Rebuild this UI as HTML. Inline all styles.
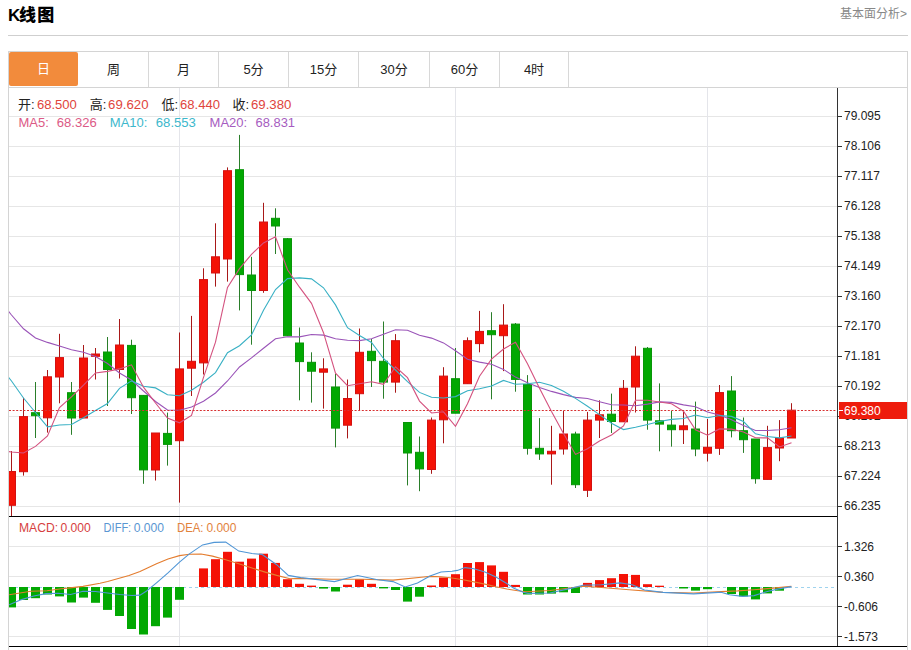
<!DOCTYPE html>
<html><head><meta charset="utf-8"><title>K线图</title>
<style>
html,body{margin:0;padding:0;background:#fff;}
body{width:911px;height:650px;overflow:hidden;position:relative;font-family:"Liberation Sans","Noto Sans CJK SC",sans-serif;}
.title{position:absolute;left:8px;top:4px;font-size:17px;font-weight:900;color:#000;line-height:24px;}
.more{position:absolute;right:4px;top:6px;font-size:12px;color:#888;line-height:16px;}
.hr{position:absolute;left:8px;top:35px;width:900px;height:1px;background:#cfcfcf;}
.box{position:absolute;left:8px;top:51px;width:900px;height:620px;border:1px solid #d4d4d4;box-sizing:border-box;}
.tabbar{position:absolute;left:9px;top:87px;width:898px;height:1px;background:#d4d4d4;}
.tab{position:absolute;top:52px;width:70px;height:35px;line-height:35px;text-align:center;font-size:13px;color:#222;}
.tab.act{background:#f28b3c;color:#fff;width:69px;height:34px;line-height:34px;border-radius:2px;}
.sep{position:absolute;top:52px;width:1px;height:35px;background:#d8d8d8;}
svg{position:absolute;left:0;top:0;}
</style></head><body>
<div class="title"><span style="letter-spacing:-1.2px">K</span><span style="letter-spacing:1.2px">线图</span></div>
<div class="more">基本面分析&gt;</div>
<div class="hr"></div>
<div class="box"></div>
<div class="tabbar"></div>
<div class="tab act" style="left:9px;width:69px">日</div>
<div class="tab" style="left:78px;width:71px">周</div>
<div class="tab" style="left:148px;width:71px">月</div>
<div class="tab" style="left:218px;width:71px">5分</div>
<div class="tab" style="left:288px;width:71px">15分</div>
<div class="tab" style="left:358px;width:72px">30分</div>
<div class="tab" style="left:429px;width:71px">60分</div>
<div class="tab" style="left:499px;width:70px">4时</div>
<div class="sep" style="left:148px"></div><div class="sep" style="left:218px"></div><div class="sep" style="left:288px"></div><div class="sep" style="left:358px"></div><div class="sep" style="left:429px"></div><div class="sep" style="left:499px"></div><div class="sep" style="left:568px"></div>
<svg width="911" height="650" viewBox="0 0 911 650">
<defs><clipPath id="cm"><rect x="9" y="88" width="828" height="428"/></clipPath><clipPath id="cd"><rect x="9" y="517" width="828" height="129"/></clipPath></defs>
<line x1="9" x2="837" y1="116.5" y2="116.5" stroke="#e6e6e6" stroke-width="1"/>
<line x1="9" x2="837" y1="146.5" y2="146.5" stroke="#e6e6e6" stroke-width="1"/>
<line x1="9" x2="837" y1="176.5" y2="176.5" stroke="#e6e6e6" stroke-width="1"/>
<line x1="9" x2="837" y1="206.5" y2="206.5" stroke="#e6e6e6" stroke-width="1"/>
<line x1="9" x2="837" y1="236.5" y2="236.5" stroke="#e6e6e6" stroke-width="1"/>
<line x1="9" x2="837" y1="266.5" y2="266.5" stroke="#e6e6e6" stroke-width="1"/>
<line x1="9" x2="837" y1="296.5" y2="296.5" stroke="#e6e6e6" stroke-width="1"/>
<line x1="9" x2="837" y1="326.5" y2="326.5" stroke="#e6e6e6" stroke-width="1"/>
<line x1="9" x2="837" y1="356.5" y2="356.5" stroke="#e6e6e6" stroke-width="1"/>
<line x1="9" x2="837" y1="386.5" y2="386.5" stroke="#e6e6e6" stroke-width="1"/>
<line x1="9" x2="837" y1="416.5" y2="416.5" stroke="#e6e6e6" stroke-width="1"/>
<line x1="9" x2="837" y1="446.5" y2="446.5" stroke="#e6e6e6" stroke-width="1"/>
<line x1="9" x2="837" y1="476.5" y2="476.5" stroke="#e6e6e6" stroke-width="1"/>
<line x1="9" x2="837" y1="506.5" y2="506.5" stroke="#e6e6e6" stroke-width="1"/>
<line x1="179.5" x2="179.5" y1="88" y2="646" stroke="#e4e5ea" stroke-width="1"/>
<line x1="455.5" x2="455.5" y1="88" y2="646" stroke="#e4e5ea" stroke-width="1"/>
<line x1="707.5" x2="707.5" y1="88" y2="646" stroke="#e4e5ea" stroke-width="1"/>
<line x1="9" x2="837" y1="546.5" y2="546.5" stroke="#e6e6e6" stroke-width="1"/>
<line x1="9" x2="837" y1="576.5" y2="576.5" stroke="#e6e6e6" stroke-width="1"/>
<line x1="9" x2="837" y1="606.5" y2="606.5" stroke="#e6e6e6" stroke-width="1"/>
<line x1="9" x2="837" y1="636.5" y2="636.5" stroke="#e6e6e6" stroke-width="1"/>
<g clip-path="url(#cm)">
<rect x="11.0" y="451.0" width="1" height="65.0" fill="#a81818"/>
<rect x="7.5" y="471.5" width="8" height="33.8" fill="#f41206" stroke="#d41010" stroke-width="1"/>
<rect x="23.0" y="397.7" width="1" height="77.9" fill="#a81818"/>
<rect x="19.5" y="416.6" width="8" height="55.1" fill="#f41206" stroke="#d41010" stroke-width="1"/>
<rect x="35.0" y="382.0" width="1" height="56.0" fill="#2a7e2a"/>
<rect x="31.5" y="412.7" width="8" height="3.0" fill="#02a802" stroke="#089608" stroke-width="1"/>
<rect x="47.0" y="370.0" width="1" height="62.6" fill="#a81818"/>
<rect x="43.5" y="376.8" width="8" height="41.0" fill="#f41206" stroke="#d41010" stroke-width="1"/>
<rect x="59.0" y="333.8" width="1" height="69.5" fill="#a81818"/>
<rect x="55.5" y="357.6" width="8" height="19.4" fill="#f41206" stroke="#d41010" stroke-width="1"/>
<rect x="71.0" y="382.0" width="1" height="52.8" fill="#2a7e2a"/>
<rect x="67.5" y="392.7" width="8" height="25.3" fill="#02a802" stroke="#089608" stroke-width="1"/>
<rect x="83.0" y="345.0" width="1" height="73.0" fill="#a81818"/>
<rect x="79.5" y="358.0" width="8" height="60.0" fill="#f41206" stroke="#d41010" stroke-width="1"/>
<rect x="95.0" y="348.0" width="1" height="31.5" fill="#a81818"/>
<rect x="91.5" y="354.0" width="8" height="2.3" fill="#f41206" stroke="#d41010" stroke-width="1"/>
<rect x="107.0" y="337.0" width="1" height="69.0" fill="#2a7e2a"/>
<rect x="103.5" y="352.0" width="8" height="17.5" fill="#02a802" stroke="#089608" stroke-width="1"/>
<rect x="119.0" y="319.0" width="1" height="59.5" fill="#a81818"/>
<rect x="115.5" y="345.0" width="8" height="24.5" fill="#f41206" stroke="#d41010" stroke-width="1"/>
<rect x="131.0" y="339.7" width="1" height="74.3" fill="#2a7e2a"/>
<rect x="127.5" y="345.4" width="8" height="52.3" fill="#02a802" stroke="#089608" stroke-width="1"/>
<rect x="143.0" y="395.0" width="1" height="88.8" fill="#2a7e2a"/>
<rect x="139.5" y="395.4" width="8" height="74.5" fill="#02a802" stroke="#089608" stroke-width="1"/>
<rect x="155.0" y="433.0" width="1" height="47.5" fill="#a81818"/>
<rect x="151.5" y="433.0" width="8" height="37.0" fill="#f41206" stroke="#d41010" stroke-width="1"/>
<rect x="167.0" y="412.6" width="1" height="53.0" fill="#2a7e2a"/>
<rect x="163.5" y="433.4" width="8" height="11.0" fill="#02a802" stroke="#089608" stroke-width="1"/>
<rect x="179.0" y="332.5" width="1" height="170.1" fill="#a81818"/>
<rect x="175.5" y="368.9" width="8" height="71.8" fill="#f41206" stroke="#d41010" stroke-width="1"/>
<rect x="191.0" y="315.9" width="1" height="80.1" fill="#a81818"/>
<rect x="187.5" y="361.3" width="8" height="6.9" fill="#f41206" stroke="#d41010" stroke-width="1"/>
<rect x="203.0" y="268.3" width="1" height="106.2" fill="#a81818"/>
<rect x="199.5" y="279.6" width="8" height="83.3" fill="#f41206" stroke="#d41010" stroke-width="1"/>
<rect x="215.0" y="223.3" width="1" height="63.3" fill="#a81818"/>
<rect x="211.5" y="256.8" width="8" height="16.2" fill="#f41206" stroke="#d41010" stroke-width="1"/>
<rect x="227.0" y="167.4" width="1" height="114.2" fill="#a81818"/>
<rect x="223.5" y="170.7" width="8" height="88.3" fill="#f41206" stroke="#d41010" stroke-width="1"/>
<rect x="239.0" y="134.9" width="1" height="175.5" fill="#2a7e2a"/>
<rect x="235.5" y="169.7" width="8" height="104.9" fill="#02a802" stroke="#089608" stroke-width="1"/>
<rect x="251.0" y="256.8" width="1" height="87.9" fill="#2a7e2a"/>
<rect x="247.5" y="275.0" width="8" height="15.5" fill="#02a802" stroke="#089608" stroke-width="1"/>
<rect x="263.0" y="202.8" width="1" height="90.0" fill="#a81818"/>
<rect x="259.5" y="222.0" width="8" height="68.5" fill="#f41206" stroke="#d41010" stroke-width="1"/>
<rect x="275.0" y="208.3" width="1" height="45.7" fill="#2a7e2a"/>
<rect x="271.5" y="218.3" width="8" height="7.7" fill="#02a802" stroke="#089608" stroke-width="1"/>
<rect x="287.0" y="238.0" width="1" height="97.8" fill="#2a7e2a"/>
<rect x="283.5" y="238.7" width="8" height="97.1" fill="#02a802" stroke="#089608" stroke-width="1"/>
<rect x="299.0" y="327.5" width="1" height="72.8" fill="#2a7e2a"/>
<rect x="295.5" y="343.0" width="8" height="18.6" fill="#02a802" stroke="#089608" stroke-width="1"/>
<rect x="311.0" y="352.3" width="1" height="50.3" fill="#2a7e2a"/>
<rect x="307.5" y="362.3" width="8" height="8.9" fill="#02a802" stroke="#089608" stroke-width="1"/>
<rect x="323.0" y="358.3" width="1" height="50.3" fill="#a81818"/>
<rect x="319.5" y="368.9" width="8" height="3.3" fill="#f41206" stroke="#d41010" stroke-width="1"/>
<rect x="335.0" y="373.8" width="1" height="73.6" fill="#2a7e2a"/>
<rect x="331.5" y="387.0" width="8" height="41.1" fill="#02a802" stroke="#089608" stroke-width="1"/>
<rect x="347.0" y="379.5" width="1" height="58.9" fill="#a81818"/>
<rect x="343.5" y="398.5" width="8" height="26.7" fill="#f41206" stroke="#d41010" stroke-width="1"/>
<rect x="359.0" y="328.5" width="1" height="81.8" fill="#a81818"/>
<rect x="355.5" y="352.3" width="8" height="41.4" fill="#f41206" stroke="#d41010" stroke-width="1"/>
<rect x="371.0" y="339.0" width="1" height="48.0" fill="#2a7e2a"/>
<rect x="367.5" y="351.3" width="8" height="9.3" fill="#02a802" stroke="#089608" stroke-width="1"/>
<rect x="383.0" y="321.5" width="1" height="77.2" fill="#2a7e2a"/>
<rect x="379.5" y="361.3" width="8" height="20.8" fill="#02a802" stroke="#089608" stroke-width="1"/>
<rect x="395.0" y="334.1" width="1" height="58.6" fill="#a81818"/>
<rect x="391.5" y="340.7" width="8" height="41.4" fill="#f41206" stroke="#d41010" stroke-width="1"/>
<rect x="407.0" y="422.5" width="1" height="62.9" fill="#2a7e2a"/>
<rect x="403.5" y="422.5" width="8" height="30.5" fill="#02a802" stroke="#089608" stroke-width="1"/>
<rect x="419.0" y="436.5" width="1" height="54.7" fill="#2a7e2a"/>
<rect x="415.5" y="452.3" width="8" height="16.6" fill="#02a802" stroke="#089608" stroke-width="1"/>
<rect x="431.0" y="417.5" width="1" height="56.3" fill="#a81818"/>
<rect x="427.5" y="420.1" width="8" height="49.4" fill="#f41206" stroke="#d41010" stroke-width="1"/>
<rect x="443.0" y="367.2" width="1" height="76.1" fill="#a81818"/>
<rect x="439.5" y="376.1" width="8" height="43.7" fill="#f41206" stroke="#d41010" stroke-width="1"/>
<rect x="455.0" y="348.0" width="1" height="65.2" fill="#2a7e2a"/>
<rect x="451.5" y="378.7" width="8" height="34.5" fill="#02a802" stroke="#089608" stroke-width="1"/>
<rect x="467.0" y="337.4" width="1" height="46.3" fill="#a81818"/>
<rect x="463.5" y="340.7" width="8" height="43.0" fill="#f41206" stroke="#d41010" stroke-width="1"/>
<rect x="479.0" y="310.9" width="1" height="41.4" fill="#a81818"/>
<rect x="475.5" y="331.4" width="8" height="12.2" fill="#f41206" stroke="#d41010" stroke-width="1"/>
<rect x="491.0" y="312.2" width="1" height="87.1" fill="#2a7e2a"/>
<rect x="487.5" y="330.7" width="8" height="4.0" fill="#02a802" stroke="#089608" stroke-width="1"/>
<rect x="503.0" y="304.2" width="1" height="66.9" fill="#a81818"/>
<rect x="499.5" y="325.1" width="8" height="10.6" fill="#f41206" stroke="#d41010" stroke-width="1"/>
<rect x="515.0" y="323.0" width="1" height="68.7" fill="#2a7e2a"/>
<rect x="511.5" y="324.1" width="8" height="55.3" fill="#02a802" stroke="#089608" stroke-width="1"/>
<rect x="527.0" y="375.1" width="1" height="79.5" fill="#2a7e2a"/>
<rect x="523.5" y="384.4" width="8" height="63.9" fill="#02a802" stroke="#089608" stroke-width="1"/>
<rect x="539.0" y="418.1" width="1" height="41.8" fill="#2a7e2a"/>
<rect x="535.5" y="448.3" width="8" height="5.6" fill="#02a802" stroke="#089608" stroke-width="1"/>
<rect x="551.0" y="425.8" width="1" height="58.9" fill="#a81818"/>
<rect x="547.5" y="451.3" width="8" height="2.6" fill="#f41206" stroke="#d41010" stroke-width="1"/>
<rect x="563.0" y="410.9" width="1" height="43.7" fill="#a81818"/>
<rect x="559.5" y="434.0" width="8" height="15.0" fill="#f41206" stroke="#d41010" stroke-width="1"/>
<rect x="575.0" y="431.7" width="1" height="56.3" fill="#2a7e2a"/>
<rect x="571.5" y="434.0" width="8" height="50.7" fill="#02a802" stroke="#089608" stroke-width="1"/>
<rect x="587.0" y="411.9" width="1" height="85.1" fill="#a81818"/>
<rect x="583.5" y="420.1" width="8" height="70.2" fill="#f41206" stroke="#d41010" stroke-width="1"/>
<rect x="599.0" y="400.3" width="1" height="37.7" fill="#a81818"/>
<rect x="595.5" y="414.8" width="8" height="5.3" fill="#f41206" stroke="#d41010" stroke-width="1"/>
<rect x="611.0" y="393.6" width="1" height="39.4" fill="#2a7e2a"/>
<rect x="607.5" y="414.2" width="8" height="7.3" fill="#02a802" stroke="#089608" stroke-width="1"/>
<rect x="623.0" y="380.0" width="1" height="41.8" fill="#a81818"/>
<rect x="619.5" y="388.3" width="8" height="33.5" fill="#f41206" stroke="#d41010" stroke-width="1"/>
<rect x="635.0" y="346.3" width="1" height="66.2" fill="#a81818"/>
<rect x="631.5" y="356.2" width="8" height="30.8" fill="#f41206" stroke="#d41010" stroke-width="1"/>
<rect x="647.0" y="347.0" width="1" height="82.7" fill="#2a7e2a"/>
<rect x="643.5" y="348.3" width="8" height="71.8" fill="#02a802" stroke="#089608" stroke-width="1"/>
<rect x="659.0" y="383.4" width="1" height="67.9" fill="#2a7e2a"/>
<rect x="655.5" y="420.8" width="8" height="3.3" fill="#02a802" stroke="#089608" stroke-width="1"/>
<rect x="671.0" y="410.9" width="1" height="35.7" fill="#2a7e2a"/>
<rect x="667.5" y="425.1" width="8" height="4.6" fill="#02a802" stroke="#089608" stroke-width="1"/>
<rect x="683.0" y="411.9" width="1" height="32.1" fill="#a81818"/>
<rect x="679.5" y="425.8" width="8" height="3.9" fill="#f41206" stroke="#d41010" stroke-width="1"/>
<rect x="695.0" y="401.6" width="1" height="54.6" fill="#2a7e2a"/>
<rect x="691.5" y="429.0" width="8" height="20.0" fill="#02a802" stroke="#089608" stroke-width="1"/>
<rect x="707.0" y="419.0" width="1" height="42.5" fill="#a81818"/>
<rect x="703.5" y="447.3" width="8" height="5.9" fill="#f41206" stroke="#d41010" stroke-width="1"/>
<rect x="719.0" y="385.0" width="1" height="69.9" fill="#a81818"/>
<rect x="715.5" y="392.6" width="8" height="55.7" fill="#f41206" stroke="#d41010" stroke-width="1"/>
<rect x="731.0" y="376.1" width="1" height="61.3" fill="#2a7e2a"/>
<rect x="727.5" y="391.0" width="8" height="39.7" fill="#02a802" stroke="#089608" stroke-width="1"/>
<rect x="743.0" y="417.5" width="1" height="35.4" fill="#2a7e2a"/>
<rect x="739.5" y="430.7" width="8" height="9.0" fill="#02a802" stroke="#089608" stroke-width="1"/>
<rect x="755.0" y="439.0" width="1" height="44.7" fill="#2a7e2a"/>
<rect x="751.5" y="439.0" width="8" height="39.7" fill="#02a802" stroke="#089608" stroke-width="1"/>
<rect x="767.0" y="425.8" width="1" height="53.6" fill="#a81818"/>
<rect x="763.5" y="447.6" width="8" height="31.8" fill="#f41206" stroke="#d41010" stroke-width="1"/>
<rect x="779.0" y="420.1" width="1" height="41.1" fill="#a81818"/>
<rect x="775.5" y="438.0" width="8" height="10.0" fill="#f41206" stroke="#d41010" stroke-width="1"/>
<rect x="791.0" y="403.2" width="1" height="34.8" fill="#a81818"/>
<rect x="787.5" y="410.2" width="8" height="27.8" fill="#f41206" stroke="#d41010" stroke-width="1"/>
<polyline points="-0.5,300.0 11.5,315.0 23.5,328.8 35.5,338.0 47.5,342.4 59.5,346.0 71.5,349.8 83.5,352.3 95.5,356.5 107.5,363.5 119.5,373.0 131.5,380.0 143.5,391.0 155.5,401.5 167.5,410.0 179.5,410.2 191.5,407.0 203.5,401.2 215.5,393.0 227.5,381.0 239.5,367.0 251.5,357.9 263.5,348.2 275.5,338.7 287.5,336.7 299.5,336.9 311.5,334.5 323.5,335.1 335.5,338.8 347.5,340.2 359.5,340.6 371.5,338.7 383.5,334.3 395.5,329.7 407.5,330.2 419.5,335.2 431.5,338.1 443.5,342.9 455.5,350.7 467.5,359.2 479.5,362.1 491.5,364.3 503.5,369.4 515.5,377.1 527.5,382.7 539.5,387.4 551.5,391.4 563.5,394.6 575.5,397.4 587.5,398.5 599.5,401.7 611.5,404.7 623.5,405.0 635.5,405.8 647.5,404.1 659.5,401.9 671.5,402.4 683.5,404.9 695.5,406.7 707.5,412.0 719.5,415.0 731.5,419.8 743.5,425.6 755.5,430.5 767.5,430.5 779.5,429.7 791.5,427.7" fill="none" stroke="#9a54b8" stroke-width="1.1"/>
<polyline points="-0.5,366.0 11.5,381.0 23.5,398.0 35.5,412.5 47.5,426.8 59.5,425.0 71.5,424.5 83.5,417.7 95.5,410.5 107.5,403.5 119.5,388.3 131.5,380.9 143.5,386.2 155.5,387.9 167.5,394.7 179.5,395.8 191.5,390.2 203.5,382.3 215.5,372.6 227.5,352.7 239.5,345.7 251.5,335.0 263.5,310.2 275.5,289.5 287.5,278.6 299.5,277.9 311.5,278.9 323.5,287.8 335.5,304.9 347.5,327.7 359.5,335.5 371.5,342.5 383.5,358.5 395.5,370.0 407.5,381.7 419.5,392.4 431.5,397.3 443.5,398.0 455.5,396.6 467.5,390.8 479.5,388.7 491.5,386.1 503.5,380.4 515.5,384.3 527.5,383.8 539.5,382.3 551.5,385.4 563.5,391.2 575.5,398.4 587.5,406.3 599.5,414.6 611.5,423.3 623.5,429.6 635.5,427.3 647.5,424.5 659.5,421.5 671.5,419.4 683.5,418.5 695.5,415.0 707.5,417.7 719.5,415.5 731.5,416.4 743.5,421.5 755.5,433.8 767.5,436.5 779.5,437.9 791.5,436.0" fill="none" stroke="#38b0c4" stroke-width="1.1"/>
<polyline points="-0.5,450.0 11.5,452.0 23.5,453.0 35.5,446.4 47.5,436.0 59.5,407.6 71.5,396.9 83.5,385.2 95.5,372.9 107.5,371.4 119.5,368.9 131.5,364.8 143.5,387.2 155.5,403.0 167.5,418.0 179.5,422.8 191.5,415.5 203.5,377.4 215.5,342.2 227.5,287.5 239.5,268.6 251.5,254.4 263.5,242.9 275.5,236.8 287.5,269.8 299.5,287.2 311.5,303.3 323.5,332.7 335.5,373.1 347.5,385.7 359.5,383.8 371.5,381.7 383.5,384.3 395.5,366.8 407.5,377.7 419.5,401.1 431.5,413.0 443.5,411.8 455.5,426.3 467.5,403.8 479.5,376.3 491.5,359.2 503.5,349.0 515.5,342.3 527.5,363.8 539.5,388.3 551.5,411.6 563.5,433.4 575.5,454.4 587.5,448.8 599.5,441.0 611.5,435.0 623.5,425.9 635.5,400.2 647.5,400.2 659.5,402.0 671.5,403.7 683.5,411.2 695.5,429.7 707.5,435.2 719.5,428.9 731.5,429.1 743.5,431.9 755.5,437.8 767.5,437.9 779.5,446.9 791.5,442.8" fill="none" stroke="#d4527f" stroke-width="1.1"/>
<line x1="9" x2="837" y1="410.5" y2="410.5" stroke="#d83030" stroke-width="1" stroke-dasharray="2 1.6"/>
</g>
<g clip-path="url(#cd)">
<line x1="9" x2="837" y1="587.5" y2="587.5" stroke="#9fd3ee" stroke-width="1" stroke-dasharray="3 3"/>
<rect x="7.0" y="587" width="9" height="20.4" fill="#02a802"/>
<rect x="19.0" y="587" width="9" height="13.0" fill="#02a802"/>
<rect x="31.0" y="587" width="9" height="11.2" fill="#02a802"/>
<rect x="43.0" y="587" width="9" height="7.5" fill="#02a802"/>
<rect x="55.0" y="587" width="9" height="9.4" fill="#02a802"/>
<rect x="67.0" y="587" width="9" height="15.5" fill="#02a802"/>
<rect x="79.0" y="587" width="9" height="10.6" fill="#02a802"/>
<rect x="91.0" y="587" width="9" height="15.8" fill="#02a802"/>
<rect x="103.0" y="587" width="9" height="22.9" fill="#02a802"/>
<rect x="115.0" y="587" width="9" height="29.0" fill="#02a802"/>
<rect x="127.0" y="587" width="9" height="42.0" fill="#02a802"/>
<rect x="139.0" y="587" width="9" height="47.5" fill="#02a802"/>
<rect x="151.0" y="587" width="9" height="39.2" fill="#02a802"/>
<rect x="163.0" y="587" width="9" height="30.6" fill="#02a802"/>
<rect x="175.0" y="587" width="9" height="12.8" fill="#02a802"/>
<rect x="199.0" y="568.4" width="9" height="18.6" fill="#f41206"/>
<rect x="211.0" y="559.2" width="9" height="27.8" fill="#f41206"/>
<rect x="223.0" y="551.8" width="9" height="35.2" fill="#f41206"/>
<rect x="235.0" y="561.7" width="9" height="25.3" fill="#f41206"/>
<rect x="247.0" y="558.6" width="9" height="28.4" fill="#f41206"/>
<rect x="259.0" y="553.7" width="9" height="33.3" fill="#f41206"/>
<rect x="271.0" y="562.9" width="9" height="24.1" fill="#f41206"/>
<rect x="283.0" y="579.2" width="9" height="7.8" fill="#f41206"/>
<rect x="295.0" y="583.8" width="9" height="3.2" fill="#f41206"/>
<rect x="307.0" y="585.6" width="9" height="1.4" fill="#f41206"/>
<rect x="319.0" y="587" width="9" height="1.6" fill="#02a802"/>
<rect x="331.0" y="587" width="9" height="4.5" fill="#02a802"/>
<rect x="343.0" y="584.7" width="9" height="2.3" fill="#f41206"/>
<rect x="355.0" y="579.2" width="9" height="7.8" fill="#f41206"/>
<rect x="367.0" y="583.8" width="9" height="3.2" fill="#f41206"/>
<rect x="379.0" y="587" width="9" height="1.4" fill="#02a802"/>
<rect x="391.0" y="587" width="9" height="3.0" fill="#02a802"/>
<rect x="403.0" y="587" width="9" height="14.6" fill="#02a802"/>
<rect x="415.0" y="587" width="9" height="9.7" fill="#02a802"/>
<rect x="427.0" y="585.5" width="9" height="1.5" fill="#f41206"/>
<rect x="439.0" y="577.5" width="9" height="9.5" fill="#f41206"/>
<rect x="451.0" y="574.2" width="9" height="12.8" fill="#f41206"/>
<rect x="463.0" y="563.0" width="9" height="24.0" fill="#f41206"/>
<rect x="475.0" y="562.1" width="9" height="24.9" fill="#f41206"/>
<rect x="487.0" y="565.4" width="9" height="21.6" fill="#f41206"/>
<rect x="499.0" y="571.8" width="9" height="15.2" fill="#f41206"/>
<rect x="511.0" y="584.9" width="9" height="2.1" fill="#f41206"/>
<rect x="523.0" y="587" width="9" height="7.5" fill="#02a802"/>
<rect x="535.0" y="587" width="9" height="7.5" fill="#02a802"/>
<rect x="547.0" y="587" width="9" height="6.6" fill="#02a802"/>
<rect x="559.0" y="587" width="9" height="5.3" fill="#02a802"/>
<rect x="571.0" y="587" width="9" height="6.0" fill="#02a802"/>
<rect x="583.0" y="582.9" width="9" height="4.1" fill="#f41206"/>
<rect x="595.0" y="580.1" width="9" height="6.9" fill="#f41206"/>
<rect x="607.0" y="578.2" width="9" height="8.8" fill="#f41206"/>
<rect x="619.0" y="574.0" width="9" height="13.0" fill="#f41206"/>
<rect x="631.0" y="574.9" width="9" height="12.1" fill="#f41206"/>
<rect x="643.0" y="584.2" width="9" height="2.8" fill="#f41206"/>
<rect x="655.0" y="585.7" width="9" height="1.3" fill="#f41206"/>
<rect x="679.0" y="587" width="9" height="1.5" fill="#02a802"/>
<rect x="691.0" y="587" width="9" height="3.6" fill="#02a802"/>
<rect x="703.0" y="587" width="9" height="2.2" fill="#02a802"/>
<rect x="727.0" y="587" width="9" height="7.0" fill="#02a802"/>
<rect x="739.0" y="587" width="9" height="9.4" fill="#02a802"/>
<rect x="751.0" y="587" width="9" height="12.4" fill="#02a802"/>
<rect x="763.0" y="587" width="9" height="6.4" fill="#02a802"/>
<rect x="775.0" y="587" width="9" height="3.7" fill="#02a802"/>
<polyline points="9.2,594.8 30.7,591.2 47.0,590.8 61.5,588.8 70.0,587.9 83.0,586.4 100.0,583.3 107.6,581.5 129.0,575.5 140.0,571.6 156.5,563.8 168.0,558.9 179.5,555.6 189.4,554.3 201.0,554.0 212.5,556.1 225.7,559.7 238.8,563.8 252.0,568.0 265.2,572.1 276.7,575.4 290.0,578.7 300.7,578.4 331.5,579.2 362.2,579.2 393.0,580.1 423.7,577.0 430.0,576.4 441.0,576.7 452.0,578.0 463.0,579.7 473.9,581.9 484.9,584.1 495.9,586.8 506.8,589.0 517.8,590.7 525.5,591.8 550.0,590.5 583.0,586.2 601.5,587.5 632.2,590.0 663.0,592.4 693.7,593.0 721.2,591.6 737.7,590.9 754.1,589.7 770.6,588.4 791.4,586.4" fill="none" stroke="#e47c2e" stroke-width="1.1"/>
<polyline points="9.2,604.8 21.5,599.6 33.8,596.0 46.0,593.6 58.4,593.2 70.7,594.5 83.0,591.3 95.3,591.5 107.6,593.0 119.8,594.5 132.0,595.5 140.0,595.1 146.6,591.0 156.5,582.8 168.0,572.9 179.5,562.2 189.4,553.9 202.6,544.9 214.1,542.4 225.7,542.1 238.8,551.1 252.0,553.5 261.9,554.4 276.7,564.7 288.3,575.4 300.7,577.6 334.5,581.6 357.6,575.5 377.6,579.8 393.0,581.6 405.2,586.9 417.5,582.9 430.0,575.9 441.0,572.0 452.0,571.2 457.4,570.4 465.1,567.6 473.9,568.7 484.9,572.0 495.9,577.0 506.8,583.5 513.4,587.9 523.3,592.3 528.0,593.4 550.0,593.0 570.7,588.4 583.0,585.3 601.5,584.7 620.0,582.9 632.2,584.7 644.5,590.0 663.0,592.4 693.7,593.9 718.2,592.4 721.2,592.2 729.4,594.7 742.6,596.4 754.1,595.6 767.3,591.5 778.8,588.9 791.4,586.6" fill="none" stroke="#5096d6" stroke-width="1.1"/>
</g>
<line x1="837.5" x2="837.5" y1="88" y2="646" stroke="#333" stroke-width="1"/>
<line x1="9" x2="837" y1="516.5" y2="516.5" stroke="#000" stroke-width="1"/>
<line x1="9" x2="907" y1="646.5" y2="646.5" stroke="#000" stroke-width="1"/>
<line x1="838" x2="842" y1="116.5" y2="116.5" stroke="#333"/>
<text x="844" y="120.2" font-family="Liberation Sans, sans-serif" font-size="12" fill="#222">79.095</text>
<line x1="838" x2="842" y1="146.5" y2="146.5" stroke="#333"/>
<text x="844" y="150.2" font-family="Liberation Sans, sans-serif" font-size="12" fill="#222">78.106</text>
<line x1="838" x2="842" y1="176.5" y2="176.5" stroke="#333"/>
<text x="844" y="180.2" font-family="Liberation Sans, sans-serif" font-size="12" fill="#222">77.117</text>
<line x1="838" x2="842" y1="206.5" y2="206.5" stroke="#333"/>
<text x="844" y="210.2" font-family="Liberation Sans, sans-serif" font-size="12" fill="#222">76.128</text>
<line x1="838" x2="842" y1="236.5" y2="236.5" stroke="#333"/>
<text x="844" y="240.2" font-family="Liberation Sans, sans-serif" font-size="12" fill="#222">75.138</text>
<line x1="838" x2="842" y1="266.5" y2="266.5" stroke="#333"/>
<text x="844" y="270.2" font-family="Liberation Sans, sans-serif" font-size="12" fill="#222">74.149</text>
<line x1="838" x2="842" y1="296.5" y2="296.5" stroke="#333"/>
<text x="844" y="300.2" font-family="Liberation Sans, sans-serif" font-size="12" fill="#222">73.160</text>
<line x1="838" x2="842" y1="326.5" y2="326.5" stroke="#333"/>
<text x="844" y="330.2" font-family="Liberation Sans, sans-serif" font-size="12" fill="#222">72.170</text>
<line x1="838" x2="842" y1="356.5" y2="356.5" stroke="#333"/>
<text x="844" y="360.2" font-family="Liberation Sans, sans-serif" font-size="12" fill="#222">71.181</text>
<line x1="838" x2="842" y1="386.5" y2="386.5" stroke="#333"/>
<text x="844" y="390.2" font-family="Liberation Sans, sans-serif" font-size="12" fill="#222">70.192</text>
<line x1="838" x2="842" y1="416.5" y2="416.5" stroke="#333"/>
<text x="844" y="420.2" font-family="Liberation Sans, sans-serif" font-size="12" fill="#222">69.202</text>
<line x1="838" x2="842" y1="446.5" y2="446.5" stroke="#333"/>
<text x="844" y="450.2" font-family="Liberation Sans, sans-serif" font-size="12" fill="#222">68.213</text>
<line x1="838" x2="842" y1="476.5" y2="476.5" stroke="#333"/>
<text x="844" y="480.2" font-family="Liberation Sans, sans-serif" font-size="12" fill="#222">67.224</text>
<line x1="838" x2="842" y1="506.5" y2="506.5" stroke="#333"/>
<text x="844" y="510.2" font-family="Liberation Sans, sans-serif" font-size="12" fill="#222">66.235</text>
<line x1="838" x2="842" y1="546.5" y2="546.5" stroke="#333"/>
<text x="844" y="550.8" font-family="Liberation Sans, sans-serif" font-size="12" fill="#222">1.326</text>
<line x1="838" x2="842" y1="576.5" y2="576.5" stroke="#333"/>
<text x="844" y="580.8" font-family="Liberation Sans, sans-serif" font-size="12" fill="#222">0.360</text>
<line x1="838" x2="842" y1="606.5" y2="606.5" stroke="#333"/>
<text x="844" y="610.8" font-family="Liberation Sans, sans-serif" font-size="12" fill="#222">-0.606</text>
<line x1="838" x2="842" y1="636.5" y2="636.5" stroke="#333"/>
<text x="844" y="640.8" font-family="Liberation Sans, sans-serif" font-size="12" fill="#222">-1.573</text>
<rect x="839" y="402" width="68" height="17" fill="#ee1c0c"/>
<line x1="839" x2="843" y1="410.5" y2="410.5" stroke="#fff"/>
<text x="844" y="415" font-family="Liberation Sans, sans-serif" font-size="12" fill="#fff">69.380</text>
<text x="18" y="109" font-family="Liberation Sans, Noto Sans CJK SC, sans-serif" font-size="13" fill="#222">开:</text>
<text x="36.9" y="109" font-family="Liberation Sans, Noto Sans CJK SC, sans-serif" font-size="13" fill="#e0443c" textLength="40" lengthAdjust="spacingAndGlyphs">68.500</text>
<text x="89.8" y="109" font-family="Liberation Sans, Noto Sans CJK SC, sans-serif" font-size="13" fill="#222">高:</text>
<text x="108.1" y="109" font-family="Liberation Sans, Noto Sans CJK SC, sans-serif" font-size="13" fill="#e0443c" textLength="40.4" lengthAdjust="spacingAndGlyphs">69.620</text>
<text x="161.6" y="109" font-family="Liberation Sans, Noto Sans CJK SC, sans-serif" font-size="13" fill="#222">低:</text>
<text x="180" y="109" font-family="Liberation Sans, Noto Sans CJK SC, sans-serif" font-size="13" fill="#e0443c" textLength="40" lengthAdjust="spacingAndGlyphs">68.440</text>
<text x="232.4" y="109" font-family="Liberation Sans, Noto Sans CJK SC, sans-serif" font-size="13" fill="#222">收:</text>
<text x="251" y="109" font-family="Liberation Sans, Noto Sans CJK SC, sans-serif" font-size="13" fill="#e0443c" textLength="40.4" lengthAdjust="spacingAndGlyphs">69.380</text>
<text x="18.5" y="126.7" font-family="Liberation Sans, Noto Sans CJK SC, sans-serif" font-size="13" fill="#dc5a86">MA5:</text>
<text x="56.8" y="126.7" font-family="Liberation Sans, Noto Sans CJK SC, sans-serif" font-size="13" fill="#dc5a86" textLength="40" lengthAdjust="spacingAndGlyphs">68.326</text>
<text x="109.8" y="126.7" font-family="Liberation Sans, Noto Sans CJK SC, sans-serif" font-size="13" fill="#3cb8cc">MA10:</text>
<text x="155.8" y="126.7" font-family="Liberation Sans, Noto Sans CJK SC, sans-serif" font-size="13" fill="#3cb8cc" textLength="40.1" lengthAdjust="spacingAndGlyphs">68.553</text>
<text x="209.6" y="126.7" font-family="Liberation Sans, Noto Sans CJK SC, sans-serif" font-size="13" fill="#a65cc0">MA20:</text>
<text x="255.5" y="126.7" font-family="Liberation Sans, Noto Sans CJK SC, sans-serif" font-size="13" fill="#a65cc0" textLength="39.5" lengthAdjust="spacingAndGlyphs">68.831</text>
<text x="19" y="531.5" font-family="Liberation Sans, Noto Sans CJK SC, sans-serif" font-size="12" fill="#d63e3e" textLength="39" lengthAdjust="spacingAndGlyphs">MACD:</text>
<text x="60.5" y="531.5" font-family="Liberation Sans, Noto Sans CJK SC, sans-serif" font-size="12" fill="#d63e3e" textLength="30.3" lengthAdjust="spacingAndGlyphs">0.000</text>
<text x="103.6" y="531.5" font-family="Liberation Sans, Noto Sans CJK SC, sans-serif" font-size="12" fill="#5a96d2" textLength="27.6" lengthAdjust="spacingAndGlyphs">DIFF:</text>
<text x="133.7" y="531.5" font-family="Liberation Sans, Noto Sans CJK SC, sans-serif" font-size="12" fill="#5a96d2" textLength="30.3" lengthAdjust="spacingAndGlyphs">0.000</text>
<text x="177" y="531.5" font-family="Liberation Sans, Noto Sans CJK SC, sans-serif" font-size="12" fill="#e2823c" textLength="26.5" lengthAdjust="spacingAndGlyphs">DEA:</text>
<text x="206.4" y="531.5" font-family="Liberation Sans, Noto Sans CJK SC, sans-serif" font-size="12" fill="#e2823c" textLength="30" lengthAdjust="spacingAndGlyphs">0.000</text>
</svg>
</body></html>
